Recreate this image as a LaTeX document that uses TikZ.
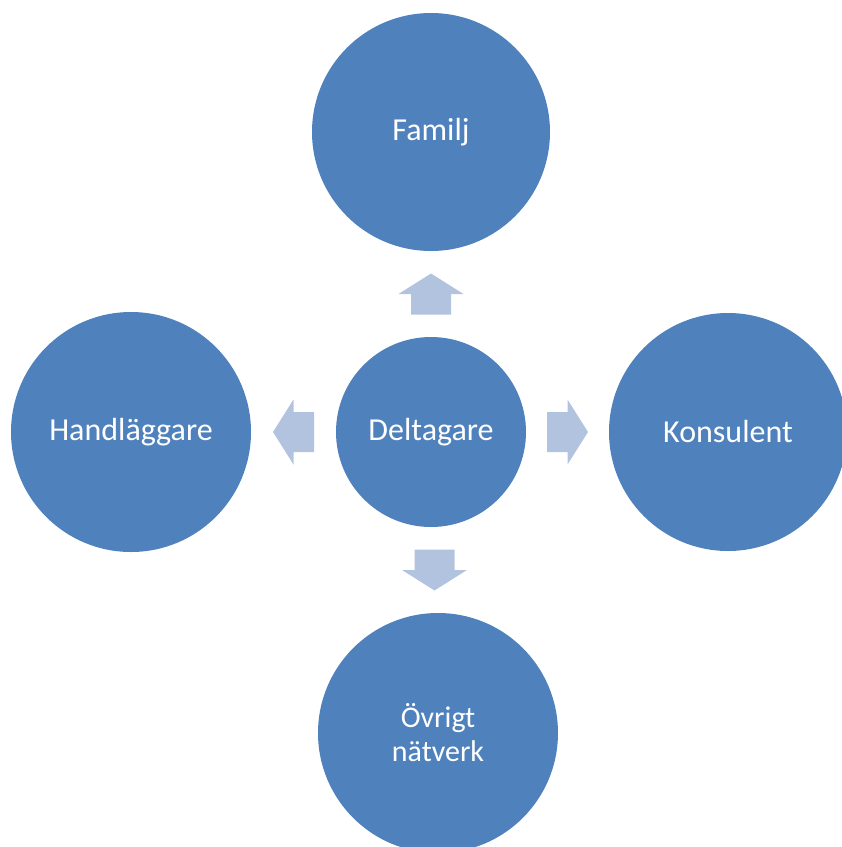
\documentclass[tikz,border=0pt]{standalone}
\usepackage{fontspec}
\setmainfont{Carlito}
\usepackage{xcolor}
\usepackage{tikz}
\usetikzlibrary{calc}
\usetikzlibrary{positioning}

\definecolor{circblue}{HTML}{4F81BD}
\definecolor{arrowblue}{HTML}{B2C3E0}

\tikzset{
	circ/.style={circle,fill=circblue,text=white,inner sep=0pt,align=center,font=\fontsize{32}{38}\selectfont},
	flowarrow/.pic={\fill[arrowblue] (-20.5,-20)--(0,-20)--(0,-32.5)--(20.5,0)--(0,32.5)--(0,20)--(-20.5,20)--cycle;}
}

\begin{document}
\begin{tikzpicture}[x=1pt,y=1pt]
	\useasboundingbox (0,0) rectangle (842,-847);
	\clip (0,0) rectangle (842,-847);
	\node[circ,minimum size=190] (delt) at (431,-432) {Deltagare};
	\node[circ,minimum size=238] (fam) at (431,-132) {Familj};
	\node[circ,minimum size=240] (hand) at (131,-432) {Handläggare};
	\node[circ,minimum size=238] (kons) at (728,-432) {Konsulent};
	\node[circ,minimum size=240,font=\fontsize{30}{34}\selectfont] (ovr) at (438,-733) {Övrigt\\nätverk};
	\pic[rotate=90] at ($(delt.north)!0.5!(fam.south)$) {flowarrow};
	\pic[rotate=180] at ($(delt.west)!0.5!(hand.east)$) {flowarrow};
	\pic at ($(delt.east)!0.5!(kons.west)$) {flowarrow};
	\pic[rotate=-90] at ($(delt.south)!0.5!(ovr.north)$) {flowarrow};
\end{tikzpicture}
\end{document}
